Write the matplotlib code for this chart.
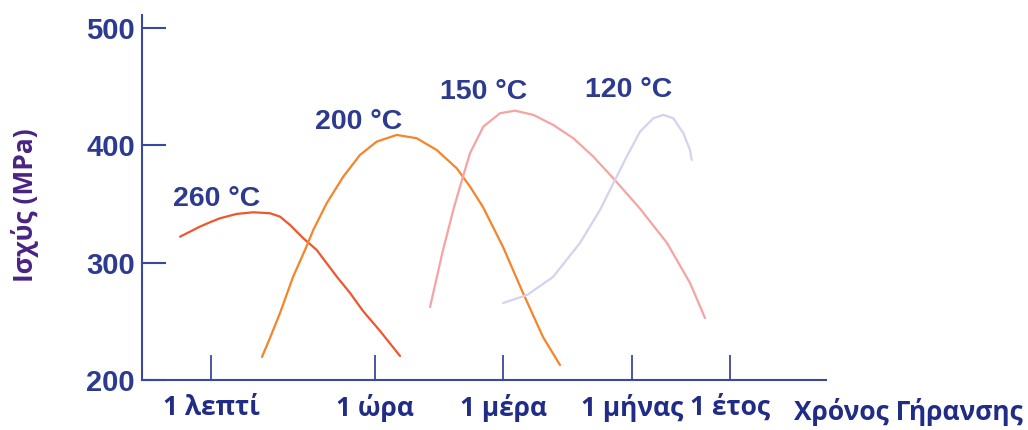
import matplotlib
matplotlib.use("Agg")
import matplotlib.pyplot as plt

# Aging-time axis positions (schematic, log-like spacing) and labels
tick_pos = [10.1, 34.1, 52.8, 71.6, 86.0]
tick_labels = ["1 λεπτί", "1 ώρα", "1 μέρα", "1 μήνας", "1 έτος"]
y_ticks = [200, 300, 400, 500]

# Strength (MPa) versus aging time for each aging temperature
t260_x = [5.56, 7.02, 8.48, 9.94, 11.40, 13.84, 16.27, 18.71, 20.18, 21.64, 23.58, 25.54,
          28.51, 30.41, 32.31, 34.80, 37.72]
t260_y = [322.1, 326.4, 330.7, 334.4, 337.8, 341.5, 342.9, 342.1, 339.2, 332.1, 320.8, 310.8,
          287.8, 274.2, 258.8, 241.8, 220.5]

t200_x = [17.54, 18.71, 20.18, 22.08, 23.83, 25.04, 27.00, 29.43, 31.87, 34.31, 37.24, 40.16,
          43.08, 46.01, 47.95, 49.85, 52.78, 55.70, 58.63, 61.11]
t200_y = [219.6, 235.8, 257.1, 287.8, 310.8, 327.8, 350.6, 373.3, 391.8, 403.1, 408.8, 406.0,
          396.0, 380.4, 364.8, 347.4, 313.4, 274.2, 236.6, 212.8]

t150_x = [42.11, 44.01, 45.51, 46.49, 47.95, 49.90, 52.34, 54.53, 57.21, 60.13, 63.06, 65.98,
          68.90, 72.81, 76.75, 80.12, 82.31]
t150_y = [262.2, 310.8, 344.9, 364.8, 393.2, 415.9, 427.3, 429.5, 425.9, 417.3, 406.0, 390.3,
          371.9, 346.0, 316.8, 282.7, 252.8]

t120_x = [52.78, 56.29, 60.09, 64.04, 66.96, 68.90, 70.86, 72.81, 74.75, 76.21, 77.68, 79.14,
          80.12, 80.37]
t120_y = [265.6, 272.4, 287.8, 316.8, 344.9, 367.6, 390.3, 411.6, 423.0, 425.9, 423.0, 410.3,
          396.0, 387.5]

series = [
    ("260 °C", t260_x, t260_y, "#f0562e", (10.9, 348.3)),
    ("200 °C", t200_x, t200_y, "#f6842a", (31.7, 413.5)),
    ("150 °C", t150_x, t150_y, "#f6a3a3", (50.0, 439.5)),
    ("120 °C", t120_x, t120_y, "#d3d3ee", (71.2, 441.2)),
]

AXIS = "#3a48a0"
TEXT = "#2c3a8f"
XTXT = "#202c85"
YLAB = "#4a2283"
GREEK = ["Open Sans", "Lato", "DejaVu Sans"]

fig = plt.figure(figsize=(10.28, 4.30), dpi=100)
ax = fig.add_axes([142 / 1028, 1 - 380 / 430, (826 - 142) / 1028, (380 - 15) / 430])
ax.set_xlim(0, 100)
ax.set_ylim(200, 511)

for name, xs, ys, col, (lx, ly) in series:
    ax.plot(xs, ys, color=col, lw=1.6, solid_capstyle="round", solid_joinstyle="round")
    ax.text(lx, ly, name, ha="center", va="baseline", color=TEXT,
            fontsize=20.5, fontweight="bold", family="Liberation Sans")

for s in ("top", "right"):
    ax.spines[s].set_visible(False)
for s in ("left", "bottom"):
    ax.spines[s].set_color(AXIS)
    ax.spines[s].set_linewidth(1.5)

ax.set_yticks(y_ticks)
ax.set_yticklabels([str(v) for v in y_ticks], fontsize=21, fontweight="bold",
                   family="Liberation Sans", color=TEXT)
ax.tick_params(axis="y", direction="in", length=17, width=1.5, color=AXIS, pad=5)

ax.set_xticks(tick_pos)
ax.set_xticklabels(tick_labels, fontsize=19, fontweight="bold", family=GREEK, color=XTXT)
ax.tick_params(axis="x", direction="in", length=18, width=1.3, color=AXIS, pad=10)

fig.text(794 / 1028, 1 - 412 / 430, "Χρόνος Γήρανσης", ha="left", va="center",
         fontsize=19, fontweight="bold", family=GREEK, color=XTXT)
fig.text(25 / 1028, 1 - 205 / 430, "Ισχύς (MPa)", ha="center", va="center", rotation=90,
         fontsize=19, fontweight="bold", family=GREEK, color=YLAB)

fig.savefig("out.png", dpi=100)
